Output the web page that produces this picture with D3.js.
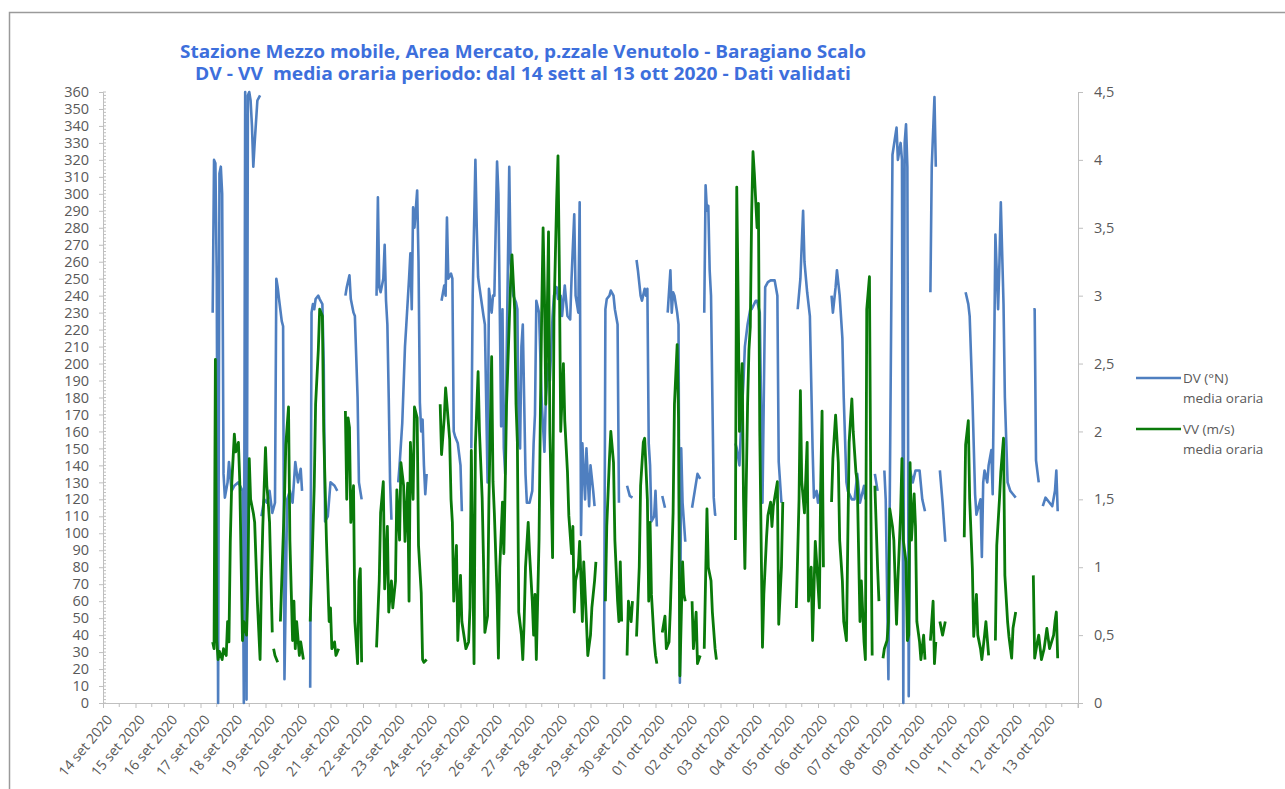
<!DOCTYPE html>
<html><head><meta charset="utf-8">
<script src="https://cdn.jsdelivr.net/npm/d3@7"></script>
<style>
html,body{margin:0;padding:0;background:#fff;}
svg{display:block;}
.tick text{font-family:"Open Sans",sans-serif;fill:#595959;}
</style></head>
<body><svg id="c" width="1285" height="789"></svg>
<script>
// ---------- DATA ----------
const titleLines = [
  "Stazione Mezzo mobile, Area Mercato, p.zzale Venutolo - Baragiano Scalo",
  "DV - VV  media oraria periodo: dal 14 sett al 13 ott 2020 - Dati validati"
];
const dateLabels = ["14 set 2020","15 set 2020","16 set 2020","17 set 2020","18 set 2020","19 set 2020","20 set 2020","21 set 2020","22 set 2020","23 set 2020","24 set 2020","25 set 2020","26 set 2020","27 set 2020","28 set 2020","29 set 2020","30 set 2020","01 ott 2020","02 ott 2020","03 ott 2020","04 ott 2020","05 ott 2020","06 ott 2020","07 ott 2020","08 ott 2020","09 ott 2020","10 ott 2020","11 ott 2020","12 ott 2020","13 ott 2020"];
const leftTicks = d3.range(0, 361, 10);
const rightTicks = [0,0.5,1,1.5,2,2.5,3,3.5,4,4.5];
const legendLabels = [["DV (°N)","media oraria"],["VV (m/s)","media oraria"]];
// [hour since 14 set 00:00, DV degrees]; null = missing data
const dvPoints = [
 [81,230],[82,320],[83,318],[84,250],[85,0],[86,312],[87,316],[88,300],[89,135],[90,121],[92,130],[93,142],[95,125],[97,128],[100,130],[103,125],[104,0],[105,360],[106,2],[107,358],[108,360],[109,355],[110,340],[111,316],[112,330],[114,355],[116,358],null,
 [117,110],[119,120],[121,118],[123,125],[125,112],[127,118],[128,250],[129,245],[130,238],[132,225],[133,222],[134,14],[136,120],[138,125],[140,118],[142,142],[144,130],[146,138],[147,125],null,
 [153,9],[154,230],[155,235],[156,232],[157,238],[159,240],[160,238],[162,235],[163,200],[164,107],[166,110],[168,130],[171,128],[173,125],null,
 [179,240],[180,245],[182,252],[183,238],[185,230],[186,228],[188,180],[189,130],[191,120],null,
 [202,240],[203,298],[204,245],[205,242],[207,250],[208,270],[209,237],[210,223],[211,180],[212,130],[213,108],null,
 [218,130],[219,140],[221,165],[223,210],[224,223],[226,250],[227,265],[228,232],[229,292],[230,280],[232,302],[233,260],[234,177],[235,160],[236,167],[237,140],[238,123],[239,135],null,
 [250,237],[252,246],[253,240],[254,286],[255,250],[257,253],[258,250],[259,160],[260,157],[262,153],[264,140],[265,113],null,
 [272,150],[273,240],[275,320],[276,280],[277,251],[278,245],[281,228],[282,223],[284,130],[285,244],[287,230],[288,240],[289,240],[291,319],[292,300],[293,232],[294,163],[295,232],[296,150],[297,135],[298,200],[300,316],[301,259],[303,240],[305,236],[306,232],[307,153],[308,150],[309,210],[310,223],[312,135],[313,118],[315,118],[317,125],[318,153],[319,170],[320,237],[322,230],[324,177],[326,148],[327,180],[329,200],[330,190],[332,228],[333,240],[335,245],[336,238],[338,240],[339,228],[341,246],[343,228],[345,226],[346,250],[348,288],[349,240],[351,230],[352,295],[353,99],[354,153],[356,120],[357,150],[359,116],[360,140],[362,125],[363,116],null,
 [370,14],[371,232],[372,238],[374,240],[375,243],[377,240],[378,232],[380,223],[381,118],null,
 [387,128],[389,122],[391,121],null,
 [394,261],[395,255],[397,240],[398,237],[400,244],[401,240],[402,244],[403,153],[404,140],[405,107],[407,110],[408,125],[409,104],null,
 [413,122],[415,115],null,
 [417,230],[419,255],[420,230],[421,242],[422,240],[424,230],[425,223],[426,12],[427,150],[428,118],[430,95],null,
 [435,115],[437,125],[439,135],[441,132],null,
 [444,230],[445,305],[446,290],[447,293],[448,255],[449,240],[450,180],[451,121],[452,111],[453,111],null,
 [467,153],[468,150],[470,140],[471,160],[473,190],[474,210],[476,223],[478,232],[479,232],[482,237],[483,237],[485,230],[487,118],[489,245],[491,248],[493,249],[496,249],[498,240],[499,142],[501,118],null,
 [513,232],[515,250],[517,290],[518,260],[520,242],[522,228],[524,150],[525,121],[527,125],[528,118],[530,125],null,
 [538,240],[539,230],[541,245],[542,255],[544,240],[546,215],[547,180],[549,130],[550,125],[553,120],[555,120],[557,135],[559,118],[562,128],[563,120],null,
 [570,135],[572,125],null,
 [577,137],[578,120],[580,14],[581,120],[583,323],[586,339],[587,320],[589,330],[590,320],[591,0],[592,330],[593,341],[594,316],[595,4],[596,137],[598,130],[600,137],[603,137],[605,120],[607,113],null,
 [611,242],[612,316],[614,357],[615,316],null,
 [618,137],[620,118],[622,95],null,
 [637,242],[639,235],[640,228],[642,181],[644,123],[645,111],[648,120],[649,86],[650,130],[651,137],[653,130],[654,140],[656,149],[657,123],[659,276],[661,232],[662,260],[663,295],[665,235],[666,180],[668,130],[670,125],[672,123],[674,121],null,
 [687,232],[688,232],[689,143],[691,130],null,
 [694,116],[696,121],[699,118],[701,116],[703,125],[704,137],[705,113]
];
// [hour since 14 set 00:00, VV m/s]; null = missing data
const vvPoints = [
 [81,0.45],[82,0.4],[83,2.53],[84,0.46],[85,0.32],[86,0.38],[88,0.32],[89,0.4],[91,0.35],[92,0.6],[93,0.45],[94,1.19],[95,1.6],[97,1.98],[98,1.85],[100,1.92],[101,1.63],[103,0.46],[104,0.6],[106,0.5],[107,0.84],[108,1.8],[109,1.5],[111,1.4],[112,1.33],[114,0.75],[116,0.32],[117,0.9],[118,1.3],[120,1.88],[121,1.6],[122,1.48],[123,1.33],[125,0.52],null,
 [126,0.4],[127,0.35],[129,0.3],null,
 [131,0.6],[132,0.9],[134,1.5],[135,1.9],[137,2.18],[138,1.2],[140,0.46],[141,0.75],[142,0.4],[143,0.6],[145,0.35],[146,0.45],[148,0.32],null,
 [153,0.6],[154,0.9],[156,1.6],[157,2.2],[159,2.6],[160,2.9],[162,2.85],[163,2.0],[165,1.2],[166,0.9],[167,0.6],[168,0.7],[169,0.4],[171,0.45],[172,0.35],[174,0.4],null,
 [179,2.15],[180,1.5],[181,2.1],[182,2.03],[183,1.33],[185,1.6],[186,0.6],[188,0.29],[189,0.9],[190,0.99],[191,0.3],null,
 [202,0.41],[204,0.9],[205,1.4],[207,1.63],[208,0.84],[210,1.3],[211,0.67],[213,0.9],[214,0.7],[216,0.9],[217,1.57],[219,1.2],[220,1.77],[222,1.6],[223,1.19],[225,1.62],[226,0.75],[227,1.92],[229,1.5],[230,2.18],[232,2.1],[233,1.16],[235,0.81],[236,0.32],[237,0.3],[239,0.32],null,
 [249,2.2],[250,1.83],[252,2.1],[253,2.32],[254,2.2],[256,1.94],[257,1.5],[258,1.33],[259,0.75],[261,1.16],[262,0.46],[264,0.94],[265,0.6],[268,0.4],[270,0.45],[271,0.7],[272,1.86],[274,0.29],[275,1.9],[277,2.44],[278,2.0],[280,1.51],[281,1.04],[282,0.52],[284,0.64],[285,1.5],[287,2.55],[288,1.63],[289,1.4],[291,0.8],[292,0.33],[293,1.0],[295,1.48],[296,1.1],[297,1.6],[298,2.2],[300,2.8],[301,3.1],[302,3.3],[304,2.9],[305,2.2],[306,1.92],[307,0.67],[309,0.5],[310,0.32],[311,0.6],[312,1.0],[314,1.33],[315,1.1],[317,0.75],[318,0.5],[319,0.8],[320,0.32],[322,1.2],[323,2.15],[324,2.9],[325,3.5],[326,3.0],[327,2.2],[329,3.47],[330,2.0],[332,1.07],[333,2.84],[335,3.7],[336,4.03],[337,3.2],[338,2.0],[340,2.5],[341,2.08],[343,1.7],[344,1.38],[346,1.1],[347,1.3],[348,0.67],[349,0.9],[351,1.0],[352,1.19],[354,0.6],[355,1.04],[357,0.6],[358,0.35],[360,0.5],[361,0.7],[363,0.9],[364,1.04],null,
 [371,0.75],[372,1.3],[374,1.8],[375,2.0],[377,1.77],[378,1.2],[380,0.75],[381,0.6],[382,1.04],[383,0.6],null,
 [387,0.35],[388,0.75],[390,0.6],[391,0.75],null,
 [394,0.49],[396,1.0],[397,1.6],[399,1.92],[400,1.95],[402,1.5],[403,0.75],[404,1.33],[405,0.8],[407,0.46],[408,0.35],[409,0.29],null,
 [413,0.52],[415,0.64],[416,0.4],[418,0.45],[419,0.7],[421,1.4],[422,2.2],[424,2.64],[425,2.1],[426,0.2],[428,1.04],[429,0.8],[430,0.75],null,
 [435,0.75],[436,0.4],[438,0.67],[439,0.29],[441,0.35],null,
 [444,0.4],[446,1.43],[447,1.0],[449,0.9],[450,0.67],[452,0.4],[453,0.32],null,
 [467,1.2],[468,3.8],[469,3.0],[470,2.0],[472,2.5],[473,1.5],[474,0.99],[476,2.2],[477,2.6],[478,2.77],[479,3.6],[480,4.06],[481,3.9],[483,3.5],[484,3.68],[485,2.0],[487,0.41],[488,0.8],[490,1.22],[491,1.38],[493,1.48],[494,1.3],[495,1.45],[498,1.63],[499,0.58],[501,1.0],[502,1.48],null,
 [512,0.7],[514,1.5],[515,2.3],[516,1.63],[518,1.4],[520,1.92],[521,0.75],[523,1.0],[524,0.46],[526,1.19],[527,1.04],[529,0.7],[530,1.6],[531,2.15],[532,1.0],null,
 [538,1.48],[539,1.8],[541,2.12],[543,1.77],[544,1.2],[546,0.9],[547,0.6],[549,0.46],[550,1.2],[551,1.92],[553,2.24],[554,2.0],[556,1.7],[557,1.63],[559,0.6],[560,0.9],[562,0.45],[563,0.32],[564,2.9],[566,3.14],[567,1.5],[568,0.35],null,
 [570,1.6],[572,1.0],[573,0.75],null,
 [576,0.33],[577,0.4],[579,0.46],[580,0.6],[581,1.43],[583,1.3],[584,1.2],[586,0.58],[587,0.9],[589,1.4],[590,1.8],[591,1.2],[593,1.04],[594,0.46],[595,0.5],[596,1.77],[597,1.2],[599,1.54],[600,1.3],[601,0.6],[603,0.45],[604,0.32],[606,0.5],[607,0.32],null,
 [611,0.46],[612,0.6],[613,0.75],[614,0.29],[615,0.45],null,
 [618,0.6],[620,0.5],[622,0.6],null,
 [636,1.22],[637,1.9],[639,2.08],[640,1.5],[642,0.99],[643,0.49],[645,0.8],[646,0.5],[648,0.4],[649,0.32],[651,0.5],[652,0.6],[654,0.35],null,
 [659,0.46],[660,1.16],[662,1.5],[663,1.7],[665,1.95],[666,0.94],[668,0.6],[669,0.49],[671,0.33],[672,0.55],[674,0.67],null,
 [687,0.94],[688,0.33],[690,0.45],[691,0.5],[693,0.32],[695,0.4],[697,0.55],[699,0.4],[702,0.5],[703,0.6],[704,0.67],[705,0.33]
];

// ---------- CHART ----------
const svg = d3.select("#c");
const gray = "#595959", axisCol = "#bfbfbf";
const blue = "#4f7fc0", green = "#0a7a0a";
const X0 = 103, X1 = 1078, Y0 = 703, Y1 = 92;

// outer frame
svg.append("rect").attr("x",9.5).attr("y",12.5).attr("width",1300).attr("height",800)
  .attr("fill","none").attr("stroke","#9a9a9a").attr("stroke-width",1.5);

const x = d3.scaleLinear().domain([0,720]).range([X0,X1]);
const yL = d3.scaleLinear().domain([0,360]).range([Y0,Y1]);
const yR = d3.scaleLinear().domain([0,4.5]).range([Y0,Y1]);

// title
svg.selectAll("text.title").data(titleLines).enter().append("text")
  .attr("class","title")
  .attr("x",523).attr("y",(d,i)=>58+i*22)
  .attr("text-anchor","middle")
  .attr("xml:space","preserve")
  .attr("textLength",(d,i)=>i===0?686:656).attr("lengthAdjust","spacingAndGlyphs")
  .style("white-space","pre")
  .style("font-family","'Open Sans',sans-serif").style("font-weight","bold").style("font-size","17px")
  .style("fill","#3d6fdc").text(d=>d);

// left axis
const gL = svg.append("g").attr("transform",`translate(${X0},0)`)
  .call(d3.axisLeft(yL).tickValues(leftTicks).tickSize(4).tickPadding(10).tickFormat(d3.format("d")));
gL.selectAll("text").style("font-size","14.5px");
// minor ticks left
svg.append("g").selectAll("line").data(d3.range(0,361,2)).enter().append("line")
  .attr("x1",X0).attr("x2",X0+3).attr("y1",d=>yL(d)).attr("y2",d=>yL(d)).attr("stroke",axisCol);

// right axis
const gR = svg.append("g").attr("transform",`translate(${X1},0)`)
  .call(d3.axisRight(yR).tickValues(rightTicks).tickSize(5).tickPadding(11)
    .tickFormat(d=>String(d).replace(".",",")));
gR.selectAll("text").style("font-size","14.5px");

// x axis
const gX = svg.append("g").attr("transform",`translate(0,${Y0})`)
  .call(d3.axisBottom(x).tickValues(d3.range(0,720,24)).tickSize(5)
    .tickFormat((d,i)=>dateLabels[i]));
gX.selectAll("text").attr("text-anchor","end").attr("x",0).attr("y",0).attr("dy","0.35em")
  .attr("transform","translate(6,14) rotate(-50)").style("font-size","14px");
svg.append("g").selectAll("line").data(d3.range(12,721,24)).enter().append("line")
  .attr("x1",d=>x(d)).attr("x2",d=>x(d)).attr("y1",Y0).attr("y2",Y0+4).attr("stroke",axisCol);
svg.append("line").attr("x1",x(720)).attr("x2",x(720)).attr("y1",Y0).attr("y2",Y0+5).attr("stroke",axisCol);

svg.selectAll(".domain").attr("stroke",axisCol);
svg.selectAll(".tick line").attr("stroke",axisCol);

// series
const lineL = d3.line().defined(d=>d!==null).x(d=>x(d[0])).y(d=>yL(d[1]));
const lineR = d3.line().defined(d=>d!==null).x(d=>x(d[0])).y(d=>yR(d[1]));
svg.append("path").datum(dvPoints).attr("d",lineL).attr("fill","none")
  .attr("stroke",blue).attr("stroke-width",2.6).attr("stroke-linejoin","round");
svg.append("path").datum(vvPoints).attr("d",lineR).attr("fill","none")
  .attr("stroke",green).attr("stroke-width",2.8).attr("stroke-linejoin","round");

// legend
const legColors = [blue, green];
const lg = svg.append("g");
legendLabels.forEach((lab,i)=>{
  const yy = 378 + i*51;
  lg.append("line").attr("x1",1136).attr("x2",1181).attr("y1",yy).attr("y2",yy)
    .attr("stroke",legColors[i]).attr("stroke-width",2.6);
  lab.forEach((t,j)=>{
    lg.append("text").attr("x",1183).attr("y",yy+5+j*20).text(t)
      .style("font-family","'Open Sans',sans-serif").style("font-size","13.5px").style("fill",gray);
  });
});
</script></body></html>
